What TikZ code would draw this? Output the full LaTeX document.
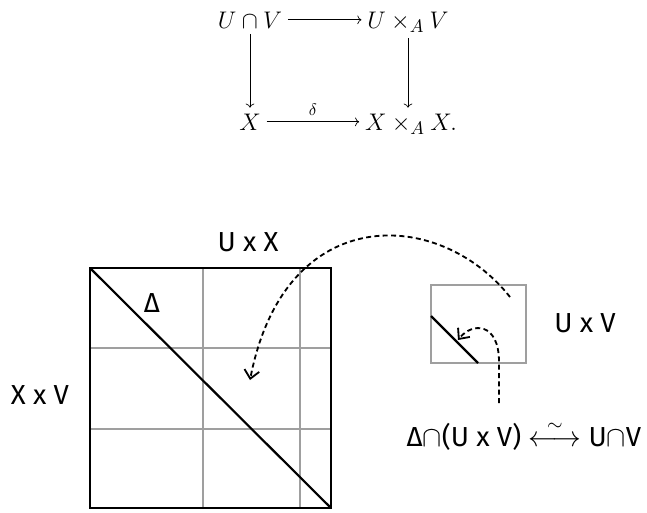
\documentclass[tikz,border=0pt]{standalone}
\usepackage{amsmath,amssymb}
\usepackage{fontspec}
\setsansfont{Fira Sans}
\usetikzlibrary{arrows.meta}

\tikzset{
  hand/.style={font=\sffamily\fontsize{16.5}{19}\selectfont},
  cell/.style={draw=gray!75, line width=1.2pt},
  jump/.style={dash pattern=on 3pt off 2pt, line width=1.1pt, -{Straight Barb[length=5pt,width=9pt]}}
}

\begin{document}
\begin{tikzpicture}[x=0.6pt,y=-0.6pt,font=\fontsize{15}{18}\selectfont]
\useasboundingbox (0,0) rectangle (647,512);
% the square
\node[anchor=base] (uv) at (250,28) {$U\cap V$};
\node[anchor=base] (uxv) at (408,28) {$U\times_A V$};
\node[anchor=base] (x) at (250,130) {$X$};
\node[anchor=base] (xax) at (411,130) {$X\times_A X.$};
\draw[->] (uv) -- (uv -| uxv.west);
\draw[->] (uv) -- (x);
\draw[->] (uxv.south) -- (uxv.south |- xax.north);
\draw[->] (x) -- (x -| xax.west) node[midway, above, font=\fontsize{10}{12}\selectfont]{$\delta$};

% big square, cut in cells
\draw[cell] (203,268) -- (203,508); \draw[cell] (300,268) -- (300,508);
\draw[cell] (90,348) -- (331,348); \draw[cell] (90,429) -- (331,429);
\draw[line width=1.5pt] (90,268) rectangle (331,508);
\draw[line width=1.3pt] (90,268) -- (331,508);
\node[hand] (diag) at (152,303) {Δ};
\node[hand] (uxx) at (248,242) {U x X};
\node[hand] (xxv) at (40,395) {X x V};

% small box
\draw[cell] (431,285) rectangle (526,363);
\draw[line width=1.3pt] (431,316) -- (478,363);
\node[hand] (uxvlab) at (585,323) {U x V};
\node[hand] (iso) at (524,435) {Δ$\cap$(U x V) $\overset{\sim}{\longleftrightarrow}$ U$\cap$V};

\coordinate (s1) at (510,297);
\coordinate (t1) at (250,380);
\draw[jump] (s1) .. controls (440,208) and (285,200) .. (t1);
\coordinate (s2) at (499,403);
\coordinate (t2) at (458,340);
\draw[jump] (s2) -- (499,362) .. controls (499,322) and (472,322) .. (t2);
\end{tikzpicture}
\end{document}
